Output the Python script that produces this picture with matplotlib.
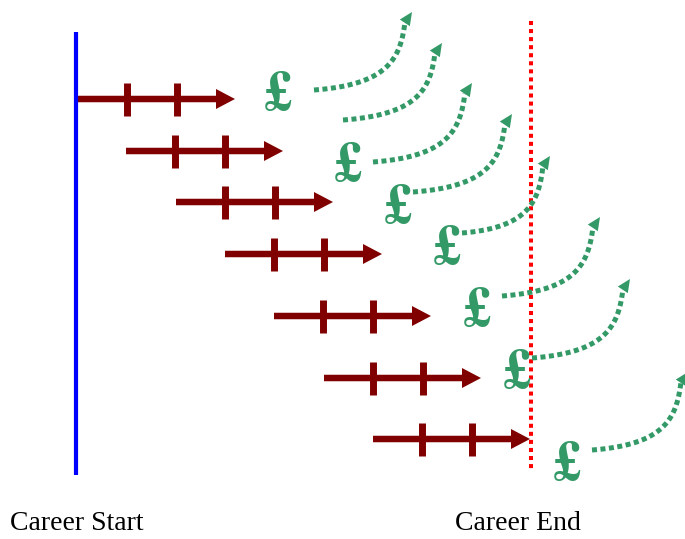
import numpy as np
import matplotlib.pyplot as plt

# career rows (pixel space of the original picture)
row_y = [99, 151, 202, 254, 316, 378, 439]
row_start = [78, 126, 176, 225, 274, 324, 373]
row_len = 157
tick_offsets = [49, 99]

# pound signs
pound_x = [278, 348, 398, 447, 477, 517, 567]
pound_y = [92, 163, 205, 246, 308, 370, 462]

# dotted money-flow curves: start and arrow tip
flow_x0 = [314, 343, 373, 413, 462, 502, 532, 592]
flow_y0 = [90, 120, 162, 192, 233, 296, 358, 450]
flow_x1 = [412, 442, 472, 512, 550, 600, 630, 688]
flow_y1 = [12, 43, 83, 114, 156, 217, 279, 372]

career_start_x = 76
career_end_x = 531
labels = ['Career Start', 'Career End']

W, H = 685, 539
fig = plt.figure(figsize=(W / 100, H / 100), dpi=100)
ax = fig.add_axes([0, 0, 1, 1])
ax.set_xlim(0, W)
ax.set_ylim(H, 0)
ax.axis('off')

dark_red = '#800000'
green = '#339966'

# start / end lines
ax.plot([career_start_x, career_start_x], [32, 475], color='#0000ff', lw=3.0,
        solid_capstyle='butt')
ax.plot([career_end_x, career_end_x], [21, 470], color='#ff0000', lw=2.9,
        linestyle=(0, (1, 1)), dash_capstyle='butt')

# career arrows with ticks
for x0, y in zip(row_start, row_y):
    ax.arrow(x0, y, row_len, 0, width=6.5, head_width=20, head_length=19,
             length_includes_head=True, color=dark_red, lw=0)
    for off in tick_offsets:
        ax.plot([x0 + off, x0 + off], [y - 16, y + 17], color=dark_red, lw=5,
                solid_capstyle='butt')

# pound signs
for px, py in zip(pound_x, pound_y):
    ax.text(px, py + 18, '£', color=green, fontsize=41, ha='center',
            va='baseline', family='STIXGeneral', weight='bold')

# dotted curves
hx, hy = 0.55, -0.83
head_len = 13
t = np.linspace(0, 1, 80)[:, None]
for x0, y0, x1, y1 in zip(flow_x0, flow_y0, flow_x1, flow_y1):
    xe, ye = x1 - head_len * hx, y1 - head_len * hy
    dx, dy = xe - x0, y0 - ye
    p0 = np.array([x0, y0])
    p1 = np.array([x0 + 0.8 * dx, y0 - 0.08 * dy])
    p2 = np.array([xe - 0.05 * dx, y0 - 0.45 * dy])
    p3 = np.array([xe, ye])
    pts = ((1 - t) ** 3) * p0 + 3 * ((1 - t) ** 2) * t * p1 \
        + 3 * (1 - t) * t ** 2 * p2 + t ** 3 * p3
    ax.plot(pts[:, 0], pts[:, 1], color=green, lw=3.6,
            linestyle=(0, (1, 0.7)), dash_capstyle='butt')
    ax.arrow(xe, ye, x1 - xe, y1 - ye, width=0.1, head_width=12,
             head_length=head_len, length_includes_head=True, color=green, lw=0)

# labels
ax.text(10, 530, labels[0], fontsize=20, family='Liberation Serif',
        ha='left', va='baseline')
ax.text(455, 530, labels[1], fontsize=20, family='Liberation Serif',
        ha='left', va='baseline')

fig.savefig('out.png', dpi=100)
